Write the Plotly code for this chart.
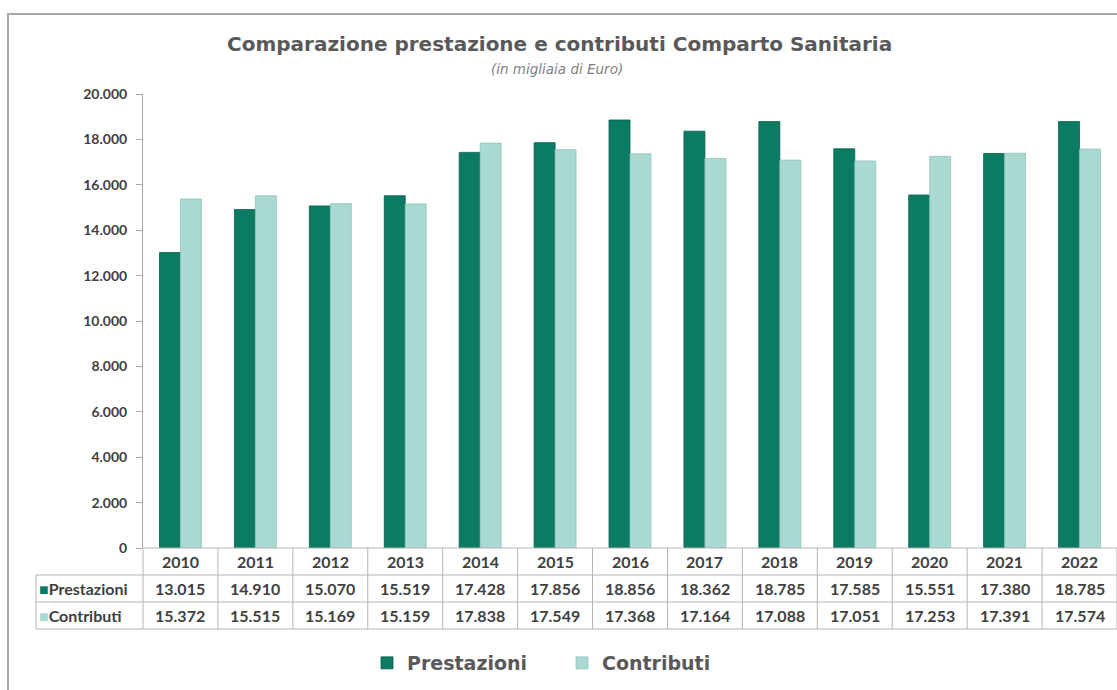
import plotly.graph_objects as go

years = ["2010", "2011", "2012", "2013", "2014", "2015", "2016",
         "2017", "2018", "2019", "2020", "2021", "2022"]
prestazioni = [13015, 14910, 15070, 15519, 17428, 17856, 18856,
               18362, 18785, 17585, 15551, 17380, 18785]
contributi = [15372, 15515, 15169, 15159, 17838, 17549, 17368,
              17164, 17088, 17051, 17253, 17391, 17574]
y_ticks = [0, 2000, 4000, 6000, 8000, 10000, 12000, 14000, 16000, 18000, 20000]

title_text = "Comparazione prestazione e contributi Comparto Sanitaria"
subtitle_text = "(in migliaia di Euro)"

C_PREST = "#0b7b64"
C_CONTR = "#a9d9d0"
TXT = "#404040"

W, H = 1117, 690
L, R, T, B = 143, 0, 94, 142
PW = W - L - R
PH = H - T - B


def px(x):
    return (x - L) / PW


def py(y):
    return (H - B - y) / PH


def it(v):
    return f"{v:,}".replace(",", ".")


fig = go.Figure()
fig.add_trace(go.Bar(name="Prestazioni", x=years, y=prestazioni,
                     marker=dict(color=C_PREST, line=dict(color="#06604d", width=0.8))))
fig.add_trace(go.Bar(name="Contributi", x=years, y=contributi,
                     marker=dict(color=C_CONTR, line=dict(color="#8fc4ba", width=0.8))))

shapes = []
annotations = []

# outer frame
shapes.append(dict(type="rect", xref="paper", yref="paper",
                   x0=px(8), x1=px(1130), y0=py(14), y1=py(705),
                   line=dict(color="#a8a8a8", width=2), fillcolor="rgba(0,0,0,0)", layer="below"))

# table grid
row_edges = [548, 575, 602, 629]
col_edges = [L + i * (PW / len(years)) for i in range(len(years) + 1)]
gcol = "#b5b5b5"
shapes.append(dict(type="line", xref="paper", yref="paper", x0=0, x1=1,
                   y0=py(row_edges[0]), y1=py(row_edges[0]), line=dict(color=gcol, width=1)))
for ry in row_edges[1:]:
    shapes.append(dict(type="line", xref="paper", yref="paper", x0=px(36), x1=1,
                       y0=py(ry), y1=py(ry), line=dict(color=gcol, width=1)))
for cx in col_edges:
    shapes.append(dict(type="line", xref="paper", yref="paper", x0=px(cx), x1=px(cx),
                       y0=py(row_edges[0]), y1=py(row_edges[-1]), line=dict(color=gcol, width=1)))
shapes.append(dict(type="line", xref="paper", yref="paper", x0=px(36), x1=px(36),
                   y0=py(row_edges[1]), y1=py(row_edges[-1]), line=dict(color=gcol, width=1)))

tfont = dict(family="Lato", size=16, color=TXT, weight="bold")
row_centers = [(row_edges[i] + row_edges[i + 1]) / 2 for i in range(3)]
for i, yr in enumerate(years):
    for r, txt in enumerate([yr, it(prestazioni[i]), it(contributi[i])]):
        annotations.append(dict(x=i, xref="x", y=py(row_centers[r]), yref="paper",
                                xanchor="center", yanchor="middle",
                                text=txt, showarrow=False, font=tfont))

for name, col, rc in [("Prestazioni", C_PREST, row_centers[1]), ("Contributi", C_CONTR, row_centers[2])]:
    annotations.append(dict(x=px(37), xref="paper", y=py(rc), yref="paper",
                            xanchor="left", yanchor="middle",
                            text=f"<span style='color:{col};font-size:16px'>■</span>{name}",
                            showarrow=False, font=tfont))

annotations.append(dict(x=px(559), xref="paper", y=py(44), yref="paper",
                        xanchor="center", yanchor="middle", text=title_text, showarrow=False,
                        font=dict(family="DejaVu Sans", size=20, color="#595959", weight="bold")))
annotations.append(dict(x=px(557), xref="paper", y=py(69), yref="paper",
                        xanchor="center", yanchor="middle", text=f"<i>{subtitle_text}</i>",
                        showarrow=False, font=dict(family="DejaVu Sans", size=13.5, color="#7f7f7f")))

fig.update_layout(
    width=W, height=H,
    margin=dict(l=L, r=R, t=T, b=B),
    paper_bgcolor="white", plot_bgcolor="white",
    barmode="group", bargap=0.44, bargroupgap=0,
    showlegend=True,
    legend=dict(orientation="h", x=px(562), xanchor="center", y=py(663), yanchor="middle",
                font=dict(family="DejaVu Sans", size=19, color="#595959", weight="bold"),
                itemwidth=30, entrywidth=150, traceorder="normal"),
    shapes=shapes, annotations=annotations,
    xaxis=dict(type="category", range=[-0.5, len(years) - 0.5], autorange=False,
               showticklabels=False, showline=False, ticks="",
               showgrid=False, zeroline=False, fixedrange=True),
    yaxis=dict(range=[0, 20000], tickvals=y_ticks, ticktext=[it(v) for v in y_ticks],
               showgrid=False, zeroline=False, showline=True, linecolor="#a6a6a6", linewidth=1,
               ticks="outside", ticklen=6, tickcolor="#a6a6a6", ticklabelstandoff=6,
               tickfont=dict(family="Lato", size=14, color=TXT, weight="bold")),
)

fig.write_html("out.html", config={"displayModeBar": False},
               post_script="document.body.style.margin='0';")
